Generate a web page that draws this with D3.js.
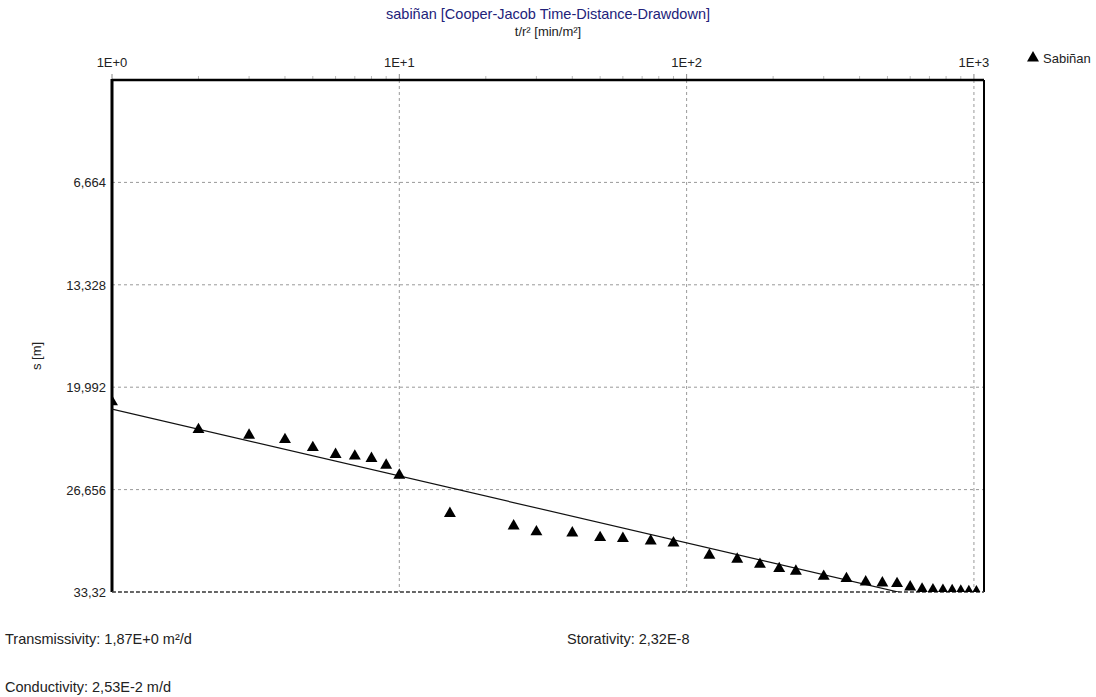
<!DOCTYPE html>
<html>
<head>
<meta charset="utf-8">
<script src="https://cdn.jsdelivr.net/npm/d3@7"></script>
<style>
  body { margin: 0; background: #fff; }
  svg { display: block; }
  text { font-family: Arial, "Liberation Sans", sans-serif; fill: #222; }
  .narrow { font-family: "Liberation Sans Narrow", "Arial Narrow", sans-serif; }
  .grid line { stroke: #999; stroke-dasharray: 3,3; stroke-width: 1; }
</style>
</head>
<body>
<svg width="1096" height="697"></svg>
<script>
    const w = 1096, h = 697;
    const plotL = 112, plotR = 984, plotT = 80, plotB = 592;

    // t/r² [min/m²] and drawdown s [m] for Sabiñan
    const timeRatio = [1, 2, 3, 4, 5, 6, 7, 8, 9, 10, 15, 25, 30, 40, 50, 60, 75, 90,
                       120, 150, 180, 210, 240, 300, 360, 420, 480, 540, 600,
                       660, 720, 780, 840, 900, 960, 1020];
    const drawdown  = [20.95, 22.75, 23.12, 23.40, 23.92, 24.37, 24.48, 24.63, 25.07, 25.72,
                       28.21, 29.02, 29.41, 29.48, 29.78, 29.84, 30.00, 30.13,
                       30.93, 31.19, 31.52, 31.80, 31.97, 32.30, 32.45, 32.67, 32.73, 32.77, 32.99,
                       33.14, 33.18, 33.21, 33.24, 33.27, 33.30, 33.32];

    // Cooper-Jacob straight line fit
    const fitT = [1, 1084];
    const fitS = [21.42, 21.42 + 4.35 * Math.log10(1084)];

    const xTicks = [1, 10, 100, 1000];
    const xTickLabels = ["1E+0", "1E+1", "1E+2", "1E+3"];
    const yTicks = [6.664, 13.328, 19.992, 26.656, 33.32];
    const yTickLabels = ["6,664", "13,328", "19,992", "26,656", "33,32"];

    const scaleX = d3.scaleLog().domain([1, 1084]).range([plotL, plotR]);
    const scaleY = d3.scaleLinear().domain([0, 33.32]).range([plotT, plotB]);

    const svg = d3.select("svg");

    svg.append("defs").append("clipPath").attr("id", "clip")
        .append("rect")
        .attr("x", plotL).attr("y", plotT)
        .attr("width", plotR - plotL).attr("height", plotB - plotT);

    // grid
    const grid = svg.append("g").attr("class", "grid");
    grid.selectAll("line.gx")
        .data(xTicks.slice(1))
        .join("line").attr("class", "gx")
        .attr("x1", d => scaleX(d)).attr("x2", d => scaleX(d))
        .attr("y1", plotT).attr("y2", plotB);
    grid.selectAll("line.gy")
        .data(yTicks)
        .join("line").attr("class", "gy")
        .attr("x1", plotL).attr("x2", plotR)
        .attr("y1", d => scaleY(d)).attr("y2", d => scaleY(d));

    // minor ticks above top edge
    const minor = [];
    for (let dec = 1; dec <= 1000; dec *= 10)
        for (let k = 2; k <= 9; k++) if (dec * k < 1084) minor.push(dec * k);
    svg.append("g").selectAll("line")
        .data(minor)
        .join("line")
        .attr("x1", d => scaleX(d)).attr("x2", d => scaleX(d))
        .attr("y1", plotT - 4).attr("y2", plotT)
        .style("stroke", "#bbb");
    svg.append("g").selectAll("line")
        .data(xTicks)
        .join("line")
        .attr("x1", d => scaleX(d)).attr("x2", d => scaleX(d))
        .attr("y1", plotT - 6).attr("y2", plotT)
        .style("stroke", "#888");

    // frame
    svg.append("line").attr("x1", plotL).attr("x2", plotR).attr("y1", plotT).attr("y2", plotT)
        .style("stroke", "#000").style("stroke-width", 2.5);
    svg.append("line").attr("x1", plotL).attr("x2", plotL).attr("y1", plotT - 1).attr("y2", plotB)
        .style("stroke", "#000").style("stroke-width", 3);
    svg.append("line").attr("x1", plotR).attr("x2", plotR).attr("y1", plotT).attr("y2", plotB)
        .style("stroke", "#000").style("stroke-width", 2);
    svg.append("line").attr("x1", plotL).attr("x2", plotR).attr("y1", plotB).attr("y2", plotB)
        .style("stroke", "#444").style("stroke-width", 1.5).style("stroke-dasharray", "4,2");

    // fit line
    const plot = svg.append("g").attr("clip-path", "url(#clip)");
    plot.append("path")
        .datum(fitT.map((t, i) => [t, fitS[i]]))
        .attr("d", d3.line().x(d => scaleX(d[0])).y(d => scaleY(d[1])))
        .style("fill", "none").style("stroke", "#111").style("stroke-width", 1.2);

    // points
    const tri = d3.symbol().type(d3.symbolTriangle).size(62);
    plot.selectAll("path.dot")
        .data(timeRatio.map((t, i) => ({t: t, s: drawdown[i]})))
        .join("path").attr("class", "dot")
        .attr("d", tri)
        .attr("transform", d => `translate(${[scaleX(d.t), scaleY(d.s)]})`)
        .style("fill", "#000");

    // axis labels
    svg.append("g").selectAll("text")
        .data(xTicks)
        .join("text")
        .attr("x", d => scaleX(d)).attr("y", 67)
        .attr("text-anchor", "middle")
        .style("font-size", "13px")
        .text((d, i) => xTickLabels[i]);

    svg.append("g").selectAll("text")
        .data(yTicks)
        .join("text")
        .attr("x", plotL - 6).attr("y", d => scaleY(d) + 5)
        .attr("text-anchor", "end")
        .style("font-size", "13px")
        .text((d, i) => yTickLabels[i]);

    svg.append("text")
        .attr("x", 548).attr("y", 19)
        .attr("text-anchor", "middle")
        .style("font-size", "14.5px").style("fill", "#22227a")
        .text("sabiñan [Cooper-Jacob Time-Distance-Drawdown]");

    svg.append("text")
        .attr("x", 548).attr("y", 36)
        .attr("text-anchor", "middle")
        .style("font-size", "13px")
        .text("t/r² [min/m²]");

    svg.append("text")
        .attr("transform", `translate(${[41, 356]}) rotate(-90)`)
        .attr("text-anchor", "middle")
        .style("font-size", "13px")
        .text("s [m]");

    // legend
    svg.append("path").attr("d", tri)
        .attr("transform", "translate(1033,58)")
        .style("fill", "#000");
    svg.append("text")
        .attr("x", 1043).attr("y", 63)
        .style("font-size", "13px")
        .text("Sabiñan");

    // results
    svg.append("text").attr("class", "narrow")
        .attr("x", 5).attr("y", 644).style("font-size", "14.5px")
        .text("Transmissivity: 1,87E+0 m²/d");
    svg.append("text").attr("class", "narrow")
        .attr("x", 567).attr("y", 644).style("font-size", "14.5px")
        .text("Storativity: 2,32E-8");
    svg.append("text").attr("class", "narrow")
        .attr("x", 5).attr("y", 692).style("font-size", "14.5px")
        .text("Conductivity: 2,53E-2 m/d");
</script>
</body>
</html>
